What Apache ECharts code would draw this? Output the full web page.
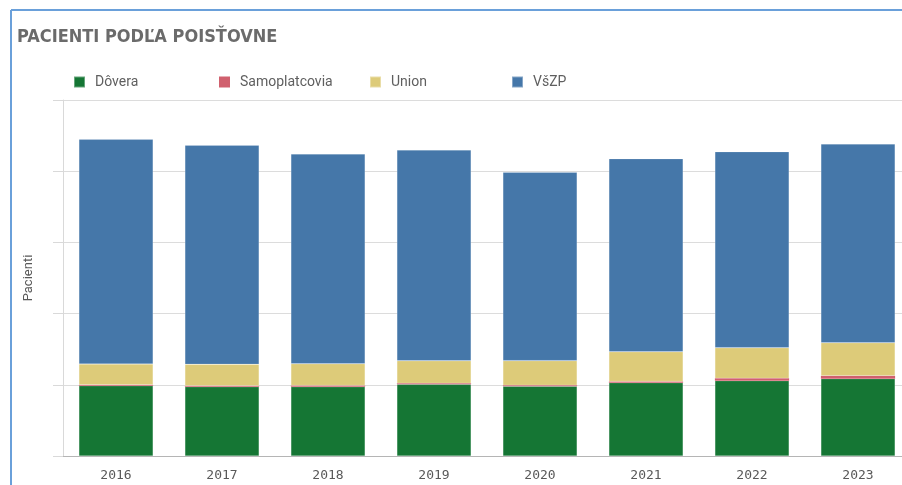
<!DOCTYPE html>
<html>
<head>
<meta charset="utf-8">
<script src="https://cdn.jsdelivr.net/npm/echarts@6/dist/echarts.min.js"></script>
<style>
  html, body { margin: 0; padding: 0; background: #fff; overflow: hidden; }
  #chart { width: 911px; height: 485px; }
</style>
</head>
<body>
<div id="chart"></div>
<script>
const years = ['2016', '2017', '2018', '2019', '2020', '2021', '2022', '2023'];
const dovera = [987, 973, 973, 1007, 979, 1030, 1058, 1086];
const samoplatcovia = [14, 14, 18, 14, 14, 18, 33, 42];
const union = [291, 300, 305, 317, 346, 416, 430, 463];
const vszp = [3156, 3077, 2946, 2960, 2646, 2712, 2753, 2791];

const names = ['Dôvera', 'Samoplatcovia', 'Union', 'VšZP'];
const colors = ['#157634', '#d0606e', '#ddcb79', '#4577a9'];
const values = [dovera, samoplatcovia, union, vszp];
const legendLeft = [68, 214, 364, 506];

// the plot runs a little past the right edge of the window, as in the source
const chart = echarts.init(document.getElementById('chart'));

const option = {
  animation: false,
  color: colors,
  title: {
    text: 'PACIENTI PODĽA POISŤOVNE',
    left: 12,
    top: 23,
    textStyle: {
      fontFamily: '"Liberation Sans Narrow", "DejaVu Sans Condensed", sans-serif',
      fontWeight: 'bold',
      fontSize: 18,
      color: '#6b6b6b'
    }
  },
  legend: names.map((n, i) => ({
    data: [n],
    left: legendLeft[i],
    top: 70,
    icon: 'rect',
    itemWidth: 11,
    itemHeight: 11,
    itemGap: 0,
    textStyle: { fontFamily: 'Roboto, sans-serif', fontSize: 14, color: '#5f5f5f', padding: [0, 0, 0, 5] }
  })),
  grid: { left: 63, top: 100, right: 0, bottom: 29 },
  xAxis: {
    type: 'category',
    data: years,
    axisLine: { lineStyle: { color: '#b5b5b5', width: 1 } },
    axisTick: { show: false },
    axisLabel: {
      fontFamily: '"DejaVu Sans Mono", monospace',
      fontSize: 13,
      color: '#595959',
      margin: 13
    }
  },
  yAxis: {
    type: 'value',
    min: 0,
    max: 5000,
    interval: 1000,
    name: 'Pacienti',
    nameLocation: 'middle',
    nameGap: 28,
    nameTextStyle: { fontFamily: 'Roboto, sans-serif', fontSize: 13, color: '#595959' },
    axisLine: { show: true, lineStyle: { color: '#d9d9d9' } },
    axisTick: { show: true, length: 10, lineStyle: { color: '#d9d9d9' } },
    axisLabel: { show: false },
    splitLine: { lineStyle: { color: '#dcdcdc' } }
  },
  graphic: [
    { type: 'line', shape: { x1: 11, y1: 10, x2: 911, y2: 10 }, style: { stroke: '#6aa0da', lineWidth: 2 } },
    { type: 'line', shape: { x1: 11, y1: 10, x2: 11, y2: 485 }, style: { stroke: '#6aa0da', lineWidth: 2 } }
  ],
  series: names.map((n, i) => ({
    name: n,
    type: 'bar',
    stack: 'total',
    barWidth: '70%',
    data: values[i],
    // thin pink layer gets no edge, otherwise it washes out
    itemStyle: i === 1 ? { borderWidth: 0 } : { borderColor: 'rgba(255,255,255,0.35)', borderWidth: 0.5 }
  }))
};

chart.setOption(option);
</script>
</body>
</html>
